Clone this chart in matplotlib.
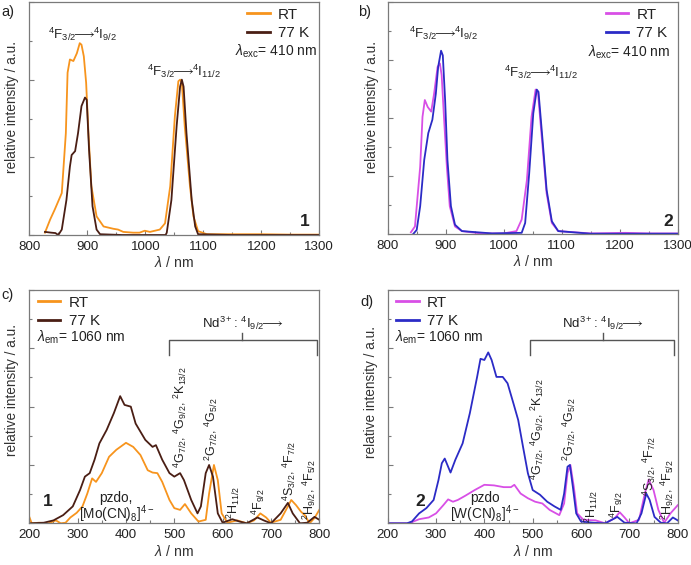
import numpy as np
import matplotlib
matplotlib.use("Agg")
import matplotlib.pyplot as plt
from matplotlib.ticker import MultipleLocator

plt.rcParams['font.family'] = ['Liberation Sans', 'DejaVu Sans']
plt.rcParams['mathtext.fontset'] = 'custom'
plt.rcParams['mathtext.rm'] = 'Liberation Sans'
plt.rcParams['mathtext.it'] = 'Liberation Sans:italic'
plt.rcParams['mathtext.bf'] = 'Liberation Sans:bold'

ORANGE = '#F7941D'
BROWN = '#4A1E14'
MAGENTA = '#D84FE6'
BLUE = '#2B2BC6'
FRAME = '#7a7a7a'
ARROW = r'$\!\!\longrightarrow\!\!$'

# ---------------- Panel a: emission, compound 1 ----------------
a_rt_x = [827, 836, 844, 856, 863, 866, 870, 876, 882, 887, 890, 894, 898, 902, 907, 916, 928, 945,
          953, 962, 979, 990, 999, 1008, 1025, 1034, 1043, 1051, 1057, 1060, 1063, 1068, 1077, 1083,
          1091, 1106, 1150, 1200, 1250, 1300]
a_rt_y = [0.03, 0.20, 0.33, 0.54, 1.31, 2.09, 2.26, 2.24, 2.34, 2.47, 2.45, 2.30, 1.96, 1.31, 0.63,
          0.24, 0.11, 0.08, 0.07, 0.04, 0.03, 0.03, 0.055, 0.04, 0.07, 0.15, 0.63, 1.53, 1.98, 2.00,
          1.96, 1.40, 0.63, 0.24, 0.05, 0.01, 0.01, 0.01, 0.005, 0.005]
a_lt_x = [827, 838, 845, 850, 856, 864, 870, 873, 879, 884, 890, 896, 899, 903, 909, 916, 922, 960,
          1000, 1035, 1037, 1045, 1054, 1060, 1063, 1066, 1071, 1080, 1086, 1091, 1150, 1200, 1300]
a_lt_y = [0.04, 0.03, 0.025, 0.0, 0.07, 0.45, 0.88, 1.03, 1.08, 1.31, 1.66, 1.77, 1.74, 1.10, 0.37,
          0.07, 0.01, 0.0, 0.0, 0.0, 0.03, 0.45, 1.40, 1.91, 2.00, 1.91, 1.31, 0.45, 0.11, 0.01,
          0.0, 0.0, 0.0]

# ---------------- Panel b: emission, compound 2 ----------------
b_rt_x = [840, 847, 856, 860, 864, 869, 875, 880, 886, 890, 893, 897, 902, 907, 916, 928, 960, 1000,
          1022, 1031, 1040, 1048, 1055, 1059, 1065, 1074, 1083, 1094, 1150, 1210, 1250, 1300]
b_rt_y = [0.03, 0.13, 1.16, 2.02, 2.31, 2.19, 2.11, 2.42, 2.88, 2.94, 2.74, 2.02, 1.16, 0.48, 0.13,
          0.05, 0.01, 0.01, 0.05, 0.25, 0.93, 2.02, 2.49, 2.45, 1.74, 0.70, 0.19, 0.05, 0.01, 0.02,
          0.01, 0.01]
b_lt_x = [844, 850, 856, 863, 870, 877, 883, 887, 892, 895, 899, 903, 909, 916, 928, 980, 1031, 1037,
          1044, 1051, 1057, 1060, 1067, 1074, 1083, 1094, 1150, 1300]
b_lt_y = [0.0, 0.07, 0.48, 1.28, 1.74, 1.97, 2.42, 2.88, 3.16, 3.08, 2.31, 1.28, 0.48, 0.16, 0.05,
          0.01, 0.02, 0.19, 1.05, 2.08, 2.49, 2.45, 1.62, 0.76, 0.22, 0.05, 0.005, 0.005]

# ---------------- Panel c: excitation, compound 1 ----------------
c_lt_x = [200, 230, 250, 270, 290, 305, 315, 325, 335, 345, 360, 375, 388, 397, 410, 420, 440, 455,
          462, 475, 490, 500, 512, 520, 535, 548, 555, 565, 572, 580, 590, 600, 620, 635, 650, 672,
          685, 700, 720, 735, 745, 760, 775, 790, 800]
c_lt_y = [0.0, 0.01, 0.05, 0.14, 0.29, 0.57, 0.80, 0.86, 1.09, 1.37, 1.60, 1.89, 2.18, 2.03, 2.00,
          1.71, 1.43, 1.31, 1.34, 1.09, 0.86, 0.80, 0.86, 0.74, 0.40, 0.17, 0.29, 0.86, 1.00, 0.80,
          0.17, 0.01, 0.07, 0.03, 0.0, 0.10, 0.05, 0.0, 0.17, 0.35, 0.17, 0.0, 0.01, 0.11, 0.06]
c_rt_x = [200, 205, 220, 240, 255, 265, 275, 285, 298, 310, 320, 330, 338, 350, 365, 380, 400, 415,
          430, 445, 455, 465, 475, 490, 500, 512, 522, 535, 550, 565, 572, 582, 590, 598, 610, 630,
          650, 665, 678, 690, 700, 720, 735, 742, 752, 762, 770, 780, 790, 800]
c_rt_y = [0.11, 0.0, 0.01, 0.0, 0.05, 0.0, 0.01, 0.10, 0.18, 0.29, 0.51, 0.77, 0.71, 0.86, 1.14,
          1.26, 1.38, 1.31, 1.17, 0.91, 0.87, 0.86, 0.71, 0.40, 0.26, 0.23, 0.33, 0.17, 0.03, 0.06,
          0.51, 1.00, 0.74, 0.17, 0.01, 0.05, 0.0, 0.05, 0.17, 0.10, 0.01, 0.06, 0.29, 0.40, 0.31,
          0.20, 0.14, 0.0, 0.09, 0.23]

# ---------------- Panel d: excitation, compound 2 ----------------
d_lt_x = [200, 240, 250, 265, 280, 295, 305, 312, 318, 325, 330, 340, 355, 370, 385, 392, 400, 408,
          415, 425, 438, 448, 460, 470, 480, 490, 500, 515, 530, 545, 558, 565, 572, 577, 583, 590,
          600, 625, 650, 675, 690, 715, 725, 735, 742, 752, 765, 778, 790, 800]
d_lt_y = [0.0, 0.0, 0.03, 0.17, 0.26, 0.40, 0.74, 1.03, 1.11, 0.97, 0.87, 1.09, 1.37, 1.89, 2.51,
          2.82, 2.80, 2.93, 2.80, 2.51, 2.51, 2.40, 2.06, 1.77, 1.31, 0.86, 0.57, 0.49, 0.37, 0.29,
          0.23, 0.51, 0.97, 1.00, 0.63, 0.17, 0.03, 0.01, 0.0, 0.11, 0.01, 0.0, 0.17, 0.51, 0.40,
          0.11, 0.01, 0.0, 0.10, 0.05]
d_rt_x = [200, 240, 250, 265, 285, 300, 315, 325, 335, 345, 360, 380, 400, 420, 440, 455, 462, 475,
          490, 505, 520, 535, 555, 565, 572, 578, 585, 592, 605, 630, 650, 670, 680, 690, 700, 720,
          732, 740, 750, 760, 772, 785, 800]
d_rt_y = [0.0, 0.0, 0.02, 0.07, 0.10, 0.17, 0.31, 0.41, 0.37, 0.40, 0.47, 0.57, 0.66, 0.65, 0.62,
          0.62, 0.66, 0.51, 0.43, 0.37, 0.34, 0.23, 0.14, 0.34, 0.86, 1.00, 0.63, 0.17, 0.06, 0.05,
          0.0, 0.09, 0.19, 0.10, 0.0, 0.06, 0.51, 0.75, 0.57, 0.23, 0.01, 0.17, 0.31]

series_labels = ['RT', '77 K']
xticks_em = [800, 900, 1000, 1100, 1200, 1300]
xticks_ex = [200, 300, 400, 500, 600, 700, 800]

fig = plt.figure(figsize=(6.91, 5.65), dpi=100)
W, H = 691, 565


def make_ax(left, top, width, height):
    return fig.add_axes([left / W, 1 - (top + height) / H, width / W, height / H])


axa = make_ax(29.3, 2, 290, 233)
axb = make_ax(387.7, 2, 290, 232)
axc = make_ax(29.3, 290, 290, 233.3)
axd = make_ax(387.7, 290, 290, 233.3)


def style(ax, xlim, ylim, xticks, ylab_pos):
    ax.set_xlim(*xlim)
    ax.set_ylim(*ylim)
    ax.set_xticks(xticks)
    ax.xaxis.set_minor_locator(MultipleLocator(50))
    ax.yaxis.set_major_locator(MultipleLocator(1))
    ax.yaxis.set_minor_locator(MultipleLocator(0.5))
    ax.tick_params(axis='both', which='both', direction='in', top=False, right=False,
                   color=FRAME, labelsize=9.6, labelcolor='#222222', pad=4)
    ax.tick_params(axis='both', which='major', length=3.5, width=0.8)
    ax.tick_params(axis='both', which='minor', length=2, width=0.8)
    ax.tick_params(axis='y', labelleft=False)
    for s in ax.spines.values():
        s.set_color(FRAME)
        s.set_linewidth(0.9)
    ax.set_xlabel(r'$\lambda$ / nm', fontsize=10.2, color='#333333', labelpad=2)
    ax.set_ylabel('relative intensity / a.u.', fontsize=9.8, color='#333333')
    ax.yaxis.set_label_coords(*ylab_pos)


lw = 1.3
# Panel a
axa.plot(a_rt_x, a_rt_y, color=ORANGE, lw=lw, label=series_labels[0])
axa.plot(a_lt_x, a_lt_y, color=BROWN, lw=lw, label=series_labels[1])
style(axa, (800, 1300), (0, 3), xticks_em, (-0.037, 0.55))
# Panel b
axb.plot(b_rt_x, b_rt_y, color=MAGENTA, lw=lw, label=series_labels[0])
axb.plot(b_lt_x, b_lt_y, color=BLUE, lw=lw, label=series_labels[1])
style(axb, (800, 1300), (0, 4), xticks_em, (-0.03, 0.547))
# Panel c
axc.plot(c_rt_x, c_rt_y, color=ORANGE, lw=lw, label=series_labels[0])
axc.plot(c_lt_x, c_lt_y, color=BROWN, lw=lw, label=series_labels[1])
style(axc, (200, 800), (0, 4), xticks_ex, (-0.037, 0.571))
# Panel d
axd.plot(d_rt_x, d_rt_y, color=MAGENTA, lw=lw, label=series_labels[0])
axd.plot(d_lt_x, d_lt_y, color=BLUE, lw=lw, label=series_labels[1])
style(axd, (200, 800), (0, 4), xticks_ex, (-0.032, 0.563))

leg_kw = dict(frameon=False, fontsize=11, handlelength=1.45, handletextpad=0.55,
              labelspacing=0.3, borderaxespad=0.0, borderpad=0.0)
for ax, loc, anchor in ((axa, 'upper right', (0.965, 0.975)), (axb, 'upper right', (0.965, 0.975)),
                        (axc, 'upper left', (0.03, 0.975)), (axd, 'upper left', (0.03, 0.975))):
    leg = ax.legend(loc=loc, bbox_to_anchor=anchor, **leg_kw)
    for t in leg.get_texts():
        t.set_color('#222222')
    for l in leg.get_lines():
        l.set_linewidth(2.0)

tc = '#222222'


def trans(b):
    return r'$^4$F$_{3/2}$' + ARROW + r'$^4$I$_{' + b + r'}$'


# annotations panel a
axa.text(891, 2.58, trans('9/2'), ha='center', va='center', fontsize=9.5, color=tc)
axa.text(1067, 2.11, trans('11/2'), ha='center', va='center', fontsize=9.5, color=tc)
axa.text(1155, 2.36, r'$\lambda_{\rm exc}$= 410 nm', ha='left', va='center', fontsize=10, color=tc)
axa.text(1275, 0.18, '1', ha='center', va='center', fontsize=12.5, fontweight='bold', color=tc)
fig.text(1 / W, 1 - 12 / H, 'a)', fontsize=10.5, ha='left', va='center', color=tc)

# annotations panel b
axb.text(896, 3.46, trans('9/2'), ha='center', va='center', fontsize=9.5, color=tc)
axb.text(1065, 2.78, trans('11/2'), ha='center', va='center', fontsize=9.5, color=tc)
axb.text(1146, 3.13, r'$\lambda_{\rm exc}$= 410 nm', ha='left', va='center', fontsize=10, color=tc)
axb.text(1284, 0.22, '2', ha='center', va='center', fontsize=12.5, fontweight='bold', color=tc)
fig.text(358 / W, 1 - 12 / H, 'b)', fontsize=10.5, ha='left', va='center', color=tc)


def excitation_annots(ax, num, num_x, pzdo_txt, complex_txt, cx, br, labels):
    ax.text(216, 3.19, r'$\lambda_{\rm em}$= 1060 nm', ha='left', va='center', fontsize=10, color=tc)
    ax.text(num_x, 0.37, num, ha='center', va='center', fontsize=12.5, fontweight='bold', color=tc)
    ax.text(cx, 0.44, pzdo_txt, ha='center', va='center', fontsize=9.8, color=tc)
    ax.text(cx, 0.15, complex_txt, ha='center', va='center', fontsize=9.8, color=tc)
    x0, x1, xm = br
    ax.plot([x0, x0, x1, x1], [2.89, 3.15, 3.15, 2.89], color='#555555', lw=1.0)
    ax.plot([xm, xm], [3.15, 3.26], color='#555555', lw=1.0)
    ax.text(xm, 3.43, r'Nd$^{3+}$: $^4$I$_{9/2}$' + ARROW, ha='center', va='center',
            fontsize=9.5, color=tc)
    for (lx, ly, txt) in labels:
        ax.text(lx, ly, txt, rotation=90, ha='center', va='bottom', fontsize=9, color=tc)


excitation_annots(axc, '1', 239, 'pzdo,', r'[Mo(CN)$_8$]$^{4-}$', 380, (490, 795, 641),
                  [(513, 0.94, r'$^4$G$_{7/2}$, $^4$G$_{9/2}$, $^2$K$_{13/2}$'),
                   (577, 1.06, r'$^2$G$_{7/2}$, $^4$G$_{5/2}$'),
                   (622, 0.07, r'$^2$H$_{11/2}$'),
                   (674, 0.14, r'$^4$F$_{9/2}$'),
                   (739, 0.39, r'$^4$S$_{3/2}$, $^4$F$_{7/2}$'),
                   (779, 0.06, r'$^2$H$_{9/2}$, $^4$F$_{5/2}$')])
excitation_annots(axd, '2', 267, 'pzdo', r'[W(CN)$_8$]$^{4-}$', 401, (494, 792, 645),
                  [(510, 0.74, r'$^4$G$_{7/2}$, $^4$G$_{9/2}$, $^2$K$_{13/2}$'),
                   (575, 1.06, r'$^2$G$_{7/2}$, $^4$G$_{5/2}$'),
                   (622, 0.0, r'$^2$H$_{11/2}$'),
                   (674, 0.09, r'$^4$F$_{9/2}$'),
                   (741, 0.46, r'$^4$S$_{3/2}$, $^4$F$_{7/2}$'),
                   (779, 0.05, r'$^2$H$_{9/2}$, $^4$F$_{5/2}$')])
fig.text(1 / W, 1 - 295 / H, 'c)', fontsize=10.5, ha='left', va='center', color=tc)
fig.text(360 / W, 1 - 302 / H, 'd)', fontsize=10.5, ha='left', va='center', color=tc)

fig.savefig('out.png', dpi=100)
